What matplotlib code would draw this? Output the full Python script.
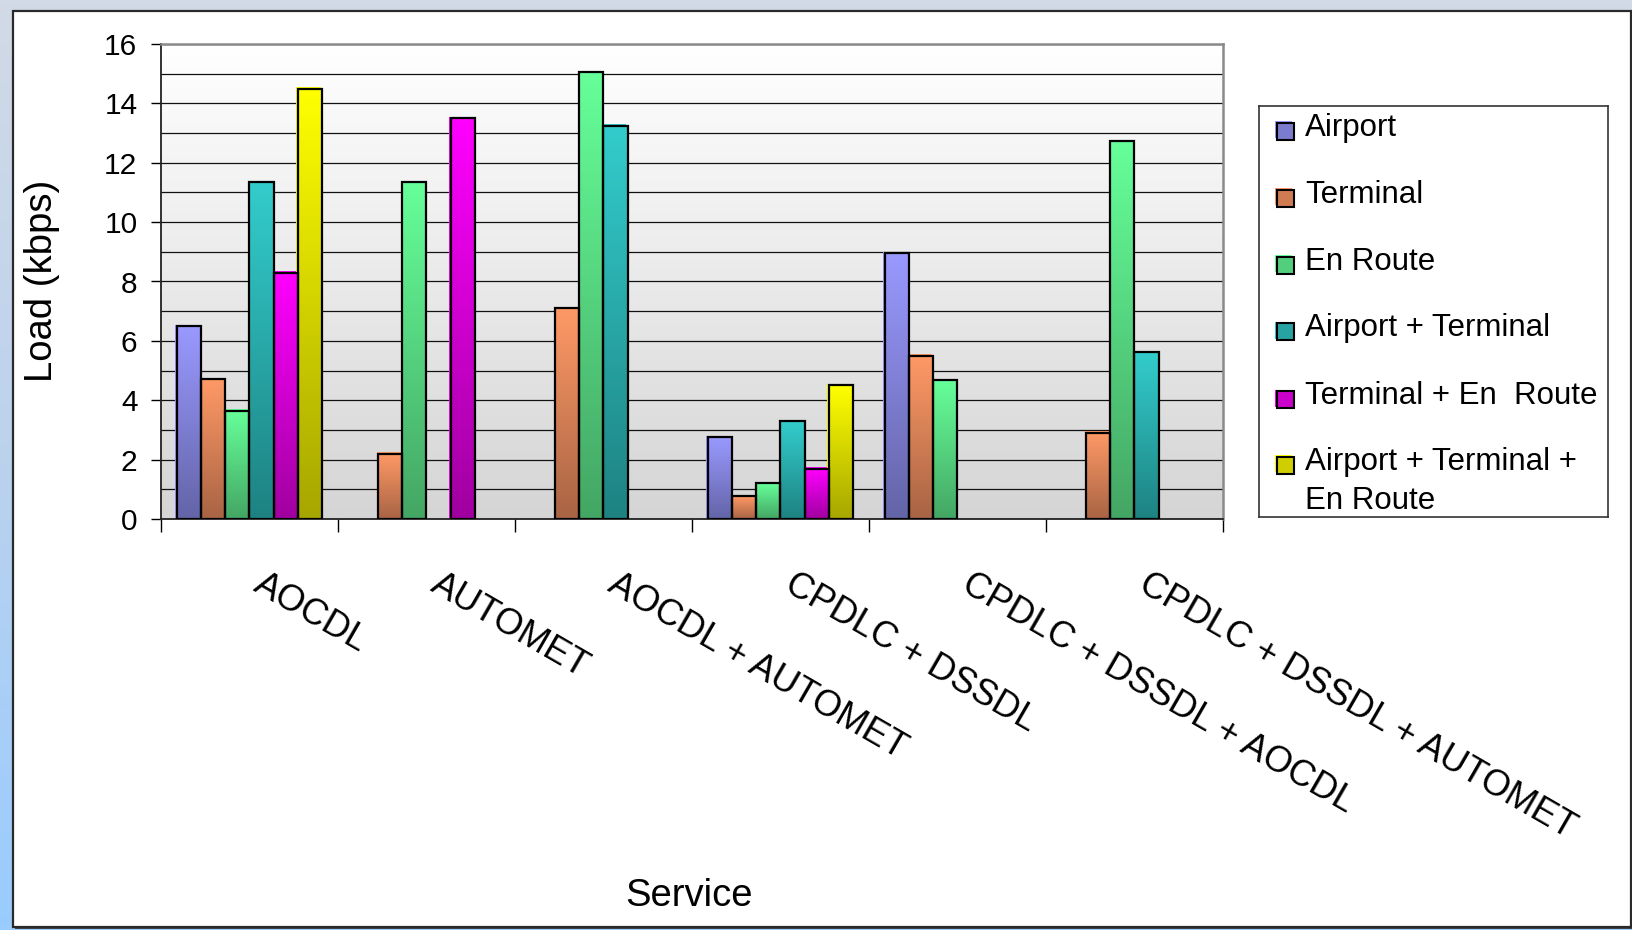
import numpy as np
import matplotlib
matplotlib.use("Agg")
import matplotlib.pyplot as plt
from matplotlib.patches import Rectangle
from matplotlib.colors import LinearSegmentedColormap
import matplotlib.transforms as mtransforms

plt.rcParams['font.family'] = ['Liberation Sans', 'DejaVu Sans']

# ---------------- data ----------------
categories = ["AOCDL", "AUTOMET", "AOCDL + AUTOMET", "CPDLC + DSSDL",
              "CPDLC + DSSDL + AOCDL", "CPDLC + DSSDL + AUTOMET"]
series_names = ["Airport", "Terminal", "En Route", "Airport + Terminal",
                "Terminal + En  Route", "Airport + Terminal +\nEn Route"]
airport = [6.5, None, None, 2.75, 8.95, None]
terminal = [4.7, 2.2, 7.1, 0.77, 5.5, 2.9]
en_route = [3.65, 11.35, 15.05, 1.2, 4.68, 12.73]
airport_terminal = [11.35, None, 13.25, 3.3, None, 5.62]
terminal_en_route = [8.3, 13.5, None, 1.7, None, None]
airport_terminal_en_route = [14.5, None, None, 4.5, None, None]
yticks = [0, 2, 4, 6, 8, 10, 12, 14, 16]

series_values = [airport, terminal, en_route, airport_terminal,
                 terminal_en_route, airport_terminal_en_route]
top_colors = ["#9999FF", "#FF9966", "#66FF99", "#33CCCC", "#FF00FF", "#FFFF00"]
bot_colors = ["#6464A8", "#A86444", "#44A664", "#1E8282", "#A000A0", "#A6A600"]

W, H = 1633, 930
fig = plt.figure(figsize=(W / 100, H / 100), dpi=100)

def px(dx, dy):
    return mtransforms.ScaledTranslation(dx / 100, dy / 100, fig.dpi_scale_trans)

# figure background gradient
bg = fig.add_axes([0, 0, 1, 1], zorder=-10)
bg.axis("off")
bgcm = LinearSegmentedColormap.from_list("bg", ["#99CCFF", "#BBD2EE", "#D2DAE6"])
bg.imshow(np.linspace(0, 1, 256).reshape(-1, 1), cmap=bgcm, aspect="auto", origin="lower",
          extent=[0, 1, 0, 1], transform=bg.transAxes)
bg.set_xlim(0, 1); bg.set_ylim(0, 1)
# white panel
bg.add_patch(Rectangle((15 / W, 1 - 929 / H), 1618 / W, 916 / H,
                       transform=bg.transAxes, facecolor="#444444", edgecolor="none"))
bg.add_patch(Rectangle((13 / W, 1 - 927 / H), 1618 / W, 916 / H,
                       transform=bg.transAxes, facecolor="white",
                       edgecolor="#2A2A2A", linewidth=1.6))

# main axes
L, T, R, B = 161, 44, 1223, 519
ax = fig.add_axes([L / W, 1 - B / H, (R - L) / W, (B - T) / H])
ax.set_facecolor("none")
ncat = len(categories)

# plot-area gradient (white top -> grey bottom)
pacm = LinearSegmentedColormap.from_list("pa", ["#D5D5D5", "#FFFFFF"])
ax.imshow(np.linspace(0, 1, 256).reshape(-1, 1), cmap=pacm, origin="lower",
          aspect="auto", extent=[0, 1, 0, 1], transform=ax.transAxes, zorder=0)

w = 0.137
x = np.arange(ncat)
for j, vals in enumerate(series_values):
    cm = LinearSegmentedColormap.from_list("s%d" % j, [bot_colors[j], top_colors[j]])
    for i, v in enumerate(vals):
        if v is None:
            continue
        x0 = x[i] + (j - 2.5) * w - w / 2
        hl = Rectangle((x0, 0), w, v, facecolor=top_colors[j], edgecolor="none",
                       transform=ax.transData + px(-1.5, 1.5), zorder=2)
        ax.add_patch(hl)
        rect = Rectangle((x0, 0), w, v, facecolor="none", edgecolor="black",
                         linewidth=1.6, zorder=4)
        ax.add_patch(rect)
        im = ax.imshow(np.linspace(0, 1, 128).reshape(-1, 1), cmap=cm, origin="lower",
                       aspect="auto", extent=[x0, x0 + w, 0, v], zorder=3)
        im.set_clip_path(rect)

ax.set_xlim(-0.5, ncat - 0.5)
ax.set_ylim(0, 16)

# grid
ax.set_yticks(yticks)
ax.set_yticks(range(17), minor=True)
ax.grid(axis="y", which="both", color="#111111", linewidth=0.9, zorder=1)
ax.set_axisbelow(True)
ax.tick_params(axis="y", which="major", length=7, width=1.0, direction="out",
               labelsize=21.5, pad=10)
ax.tick_params(axis="y", which="minor", length=0)

ax.set_xticks(x)
ax.set_xticklabels(categories, rotation=-30, ha="left", va="top",
                   rotation_mode="anchor", fontsize=26)
ax.tick_params(axis="x", which="major", length=0, pad=34)
for lab in ax.get_xticklabels():
    lab.set_transform(lab.get_transform() + px(16, 0))
ax.set_xticks(np.arange(-0.5, ncat, 1.0), minor=True)
ax.tick_params(axis="x", which="minor", length=9, width=1.0, direction="out")

for s in ["left", "bottom"]:
    ax.spines[s].set_color("#222222")
    ax.spines[s].set_linewidth(1.3)
for s in ["top", "right"]:
    ax.spines[s].set_color("#8A8A8A")
    ax.spines[s].set_linewidth(1.8)

fig.text(689 / W, 1 - 896 / H, "Service", ha="center", va="center", fontsize=27.5)
fig.text(42 / W, 1 - 281 / H, "Load (kbps)", ha="center", va="center",
         rotation=90, fontsize=27.5)

# legend
lx0, ly0, lx1, ly1 = 1259, 106, 1608, 517
lg = fig.add_axes([lx0 / W, 1 - ly1 / H, (lx1 - lx0) / W, (ly1 - ly0) / H])
lg.set_xlim(0, lx1 - lx0)
lg.set_ylim(ly1 - ly0, 0)
lg.set_xticks([]); lg.set_yticks([])
lg.set_facecolor("white")
for s in lg.spines.values():
    s.set_color("#333333"); s.set_linewidth(1.2)
row_y = [22, 89, 156, 222, 290, 356]
for j, name in enumerate(series_names):
    cy = row_y[j]
    lg.add_patch(Rectangle((16, cy - 6.5), 17, 17, facecolor=top_colors[j], edgecolor="none"))
    mid = LinearSegmentedColormap.from_list("m", [bot_colors[j], top_colors[j]])(0.45)
    lg.add_patch(Rectangle((18, cy - 5), 17, 17, facecolor=mid, edgecolor="black", linewidth=1.5))
    lines = name.split("\n")
    for k, line in enumerate(lines):
        lg.text(46, cy + 39 * k, line, ha="left", va="center", fontsize=22.5)

fig.savefig("out.png", dpi=100)
